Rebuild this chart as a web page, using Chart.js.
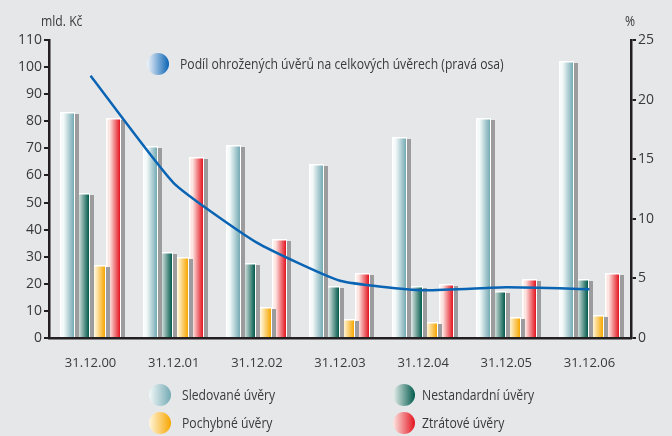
<!DOCTYPE html>
<html>
<head>
<meta charset="utf-8">
<script src="https://cdn.jsdelivr.net/npm/chart.js@4/dist/chart.umd.min.js"></script>
<style>
    html, body { margin: 0; padding: 0; background: #e6e7e9; }
    #wrap { position: relative; width: 672px; height: 436px; font-family: "Open Sans", sans-serif; color: #3a3a3c; }
    #chart { position: absolute; left: 0; top: 0; }
    .lbl { position: absolute; font-size: 14px; white-space: nowrap; transform: scaleX(0.87); transform-origin: left center; line-height: 18px; }
    .dot { position: absolute; width: 22px; height: 22px; border-radius: 50%; }
</style>
</head>
<body>
<div id="wrap">
    <canvas id="chart" width="672" height="436"></canvas>
    <div class="lbl" style="left:41px; top:12px;">mld. Kč</div>
    <div class="lbl" style="left:625px; top:12px;">%</div>

    <div class="dot" style="left:147px; top:53px; background: linear-gradient(90deg, #f0f4fa, #0a64b4);"></div>
    <div class="lbl" style="left:180px; top:55px;">Podíl ohrožených úvěrů na celkových úvěrech (pravá osa)</div>

    <div class="dot" style="left:149px; top:384px; background: linear-gradient(90deg, #f2f8f8, #74aab4);"></div>
    <div class="lbl" style="left:182px; top:386px;">Sledované úvěry</div>
    <div class="dot" style="left:393px; top:384px; background: linear-gradient(90deg, #e8efed, #005a4c);"></div>
    <div class="lbl" style="left:422px; top:386px;">Nestandardní úvěry</div>
    <div class="dot" style="left:149px; top:412px; background: linear-gradient(90deg, #fff6dc, #f7a600);"></div>
    <div class="lbl" style="left:182px; top:414px;">Pochybné úvěry</div>
    <div class="dot" style="left:393px; top:412px; background: linear-gradient(90deg, #fde6e2, #e3141f);"></div>
    <div class="lbl" style="left:422px; top:414px;">Ztrátové úvěry</div>
</div>
<script>
    // Data
    const labels = ["31.12.00", "31.12.01", "31.12.02", "31.12.03", "31.12.04", "31.12.05", "31.12.06"];
    const sledovane = [83, 70.5, 71, 64, 74, 81, 102];
    const nestandardni = [53, 31.5, 27.5, 19, 19, 17, 21.5];
    const pochybne = [26.5, 29.5, 11, 6.5, 5.5, 7.5, 8];
    const ztratove = [81, 66.5, 36, 23.5, 19.5, 21.5, 23.5];
    const podil = [22, 13, 8, 4.8, 4.0, 4.25, 4.1];

    const leftTicks = [0, 10, 20, 30, 40, 50, 60, 70, 80, 90, 100, 110];
    const rightTicks = [0, 5, 10, 15, 20, 25];

    const AXIS = "#231f20";
    const TEXT = "#3a3a3c";

    // light -> dark horizontal gradient per bar series
    const barPalette = [
        { light: "#f4f9f9", dark: "#74aab4" },
        { light: "#d6e3e0", dark: "#005a4c" },
        { light: "#fff6dc", dark: "#f7a600" },
        { light: "#fde6e2", dark: "#e3141f" }
    ];

    // Draw bars ourselves: grey drop shadow on the right, gradient body, white edge
    const fancyBars = {
        id: "fancyBars",
        beforeDatasetDraw(chart, args) {
            const meta = args.meta;
            if (meta.type !== "bar") return;
            const ctx = chart.ctx;
            const pal = barPalette[args.index];
            ctx.save();
            meta.data.forEach(bar => {
                const p = bar.getProps(["x", "y", "base", "width"], true);
                const left = Math.round(p.x - p.width / 2);
                const w = Math.round(p.width);
                const top = Math.round(p.y);
                const base = Math.round(p.base);
                ctx.fillStyle = "#9c9c9e";
                ctx.fillRect(left + w, top + 1, 4, base - top - 1);
                ctx.fillStyle = "#ffffff";
                ctx.fillRect(left, top - 1, w, base - top + 1);
                const g = ctx.createLinearGradient(left + 1, 0, left + w - 1, 0);
                g.addColorStop(0, pal.light);
                g.addColorStop(0.2, pal.light);
                g.addColorStop(1, pal.dark);
                ctx.fillStyle = g;
                ctx.fillRect(left + 1.5, top + 0.5, w - 2.5, base - top - 0.5);
            });
            ctx.restore();
            return false;
        }
    };

    const barCommon = { yAxisID: "y", categoryPercentage: 0.74, barPercentage: 1.0, order: 2 };

    new Chart(document.getElementById("chart"), {
        data: {
            labels,
            datasets: [
                Object.assign({ type: "bar", label: "Sledované úvěry", data: sledovane }, barCommon),
                Object.assign({ type: "bar", label: "Nestandardní úvěry", data: nestandardni }, barCommon),
                Object.assign({ type: "bar", label: "Pochybné úvěry", data: pochybne }, barCommon),
                Object.assign({ type: "bar", label: "Ztrátové úvěry", data: ztratove }, barCommon),
                {
                    type: "line", label: "Podíl ohrožených úvěrů na celkových úvěrech (pravá osa)",
                    data: podil, yAxisID: "y1", order: 1,
                    borderColor: "#0a64b4", borderWidth: 2.5, pointRadius: 0, tension: 0.15, fill: false
                }
            ]
        },
        options: {
            responsive: false,
            animation: false,
            layout: { padding: { top: 40, left: 0, right: 0, bottom: 0 } },
            plugins: { legend: { display: false }, tooltip: { enabled: false } },
            scales: {
                x: {
                    offset: true,
                    grid: { display: false },
                    border: { color: AXIS, width: 2.5 },
                    ticks: { color: TEXT, font: { family: "Open Sans", size: 13 }, padding: 9, maxRotation: 0 },
                    afterFit: s => { s.height = 98; }
                },
                y: {
                    position: "left", min: 0, max: 110,
                    afterBuildTicks: s => { s.ticks = leftTicks.map(v => ({ value: v })); },
                    grid: { drawOnChartArea: false, drawTicks: true, tickLength: 5, color: AXIS, lineWidth: 2 },
                    border: { color: AXIS, width: 2.5 },
                    ticks: { color: TEXT, font: { family: "Open Sans", size: 14 }, padding: 2 },
                    afterFit: s => { s.width = 49; }
                },
                y1: {
                    position: "right", min: 0, max: 25,
                    afterBuildTicks: s => { s.ticks = rightTicks.map(v => ({ value: v })); },
                    grid: { drawOnChartArea: false, drawTicks: true, tickLength: 5, color: AXIS, lineWidth: 2 },
                    border: { color: AXIS, width: 2.5 },
                    ticks: { color: TEXT, font: { family: "Open Sans", size: 14 }, padding: 2 },
                    afterFit: s => { s.width = 41; }
                }
            }
        },
        plugins: [fancyBars]
    });
</script>
</body>
</html>
